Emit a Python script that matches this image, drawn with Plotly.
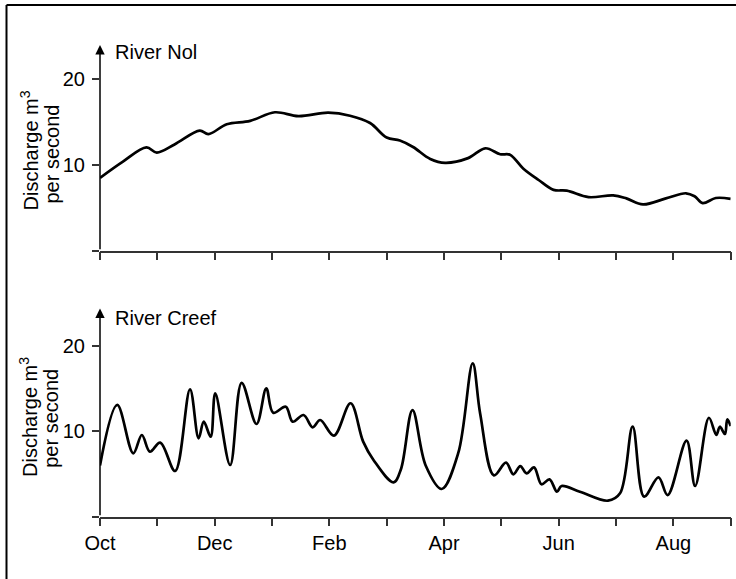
import plotly.graph_objects as go

# ---- data ----
month_names = ["Oct", "Nov", "Dec", "Jan", "Feb", "Mar", "Apr", "May", "Jun", "Jul", "Aug", "Sep"]
month_ticks = list(range(12))
label_every = 2

nol_month = [0, 0.4, 0.81, 0.99, 1.3, 1.74, 1.89, 2.21, 2.62, 3.05, 3.46, 3.98, 4.36, 4.71, 5.0,
             5.23, 5.46, 5.76, 6.02, 6.42, 6.72, 6.98, 7.15, 7.38, 7.65, 7.91, 8.14, 8.52, 8.95,
             9.18, 9.47, 9.87, 10.22, 10.37, 10.51, 10.74, 11.0]
nol_flow = [8.5, 10.4, 12.05, 11.45, 12.4, 14.0, 13.6, 14.75, 15.15, 16.15, 15.7, 16.1, 15.75, 14.9,
            13.2, 12.85, 12.1, 10.7, 10.25, 10.8, 11.95, 11.25, 11.2, 9.6, 8.25, 7.1, 7.0, 6.25,
            6.45, 6.1, 5.4, 6.1, 6.7, 6.35, 5.55, 6.15, 6.05]

creef_month = [0.0, 0.30, 0.58, 0.73, 0.87, 1.05, 1.31, 1.57, 1.72, 1.81, 1.93, 2.01, 2.27, 2.47,
               2.73, 2.90, 3.02, 3.24, 3.36, 3.55, 3.71, 3.84, 4.08, 4.37, 4.59, 4.77, 5.12, 5.25,
               5.45, 5.68, 5.96, 6.25, 6.5, 6.63, 6.87, 7.08, 7.21, 7.33, 7.44, 7.57, 7.70, 7.84,
               7.97, 8.05, 8.37, 8.86, 9.07, 9.29, 9.49, 9.74, 9.90, 10.23, 10.38, 10.62, 10.75,
               10.81, 10.90, 10.94, 11.0]
creef_flow = [6.0, 13.1, 7.43, 9.58, 7.62, 8.68, 5.36, 14.93, 9.19, 11.14, 9.38, 14.47, 6.06, 15.7,
              10.87, 15.05, 12.19, 12.9, 11.14, 11.92, 10.48, 11.34, 9.5, 13.3, 8.8, 6.65, 4.03, 5.6,
              12.5, 6.0, 3.25, 7.5, 17.98, 12.1, 4.85, 6.33, 4.97, 5.94, 5.08, 5.79, 3.8, 4.38,
              2.93, 3.6, 2.93, 1.88, 2.74, 10.55, 2.35, 4.62, 2.54, 8.91, 3.6, 11.6, 9.58,
              10.55, 9.7, 11.4, 10.63]

y_label_ticks = [10, 20]
y_plain_ticks = [0]
panel_titles = ["River Nol", "River Creef"]
y_title_lines = ["Discharge m<sup>3</sup>", "per second"]

# ---- figure ----
W, H = 736, 579
FONT = dict(family="Liberation Sans, Arial, Helvetica, sans-serif", size=20, color="#000")
AX = "#333"

fig = go.Figure()
fig.add_trace(go.Scatter(x=nol_month, y=nol_flow, mode="lines", xaxis="x", yaxis="y",
                         line=dict(color="#000", width=2.7, shape="spline", smoothing=1.0),
                         hoverinfo="skip", showlegend=False))
fig.add_trace(go.Scatter(x=creef_month, y=creef_flow, mode="lines", xaxis="x2", yaxis="y2",
                         line=dict(color="#000", width=2.7, shape="spline", smoothing=1.0),
                         hoverinfo="skip", showlegend=False))

xdom = [100 / W, 730.7 / W]
top_dom = [1 - 250.7 / H, 1 - 45.0 / H]
bot_dom = [1 - 516.7 / H, 1 - 308.6 / H]
y_tops = [24, 24.4]

major_vals = month_ticks[::label_every]
major_text = month_names[::label_every]

tick_style = dict(ticks="outside", tickwidth=1.5, tickcolor=AX)
common_x = dict(range=[0, 11], showline=True, linecolor=AX, linewidth=1.5, ticklen=8,
                tickvals=major_vals, ticktext=major_text, showgrid=False, zeroline=False,
                fixedrange=True, minor=dict(tickvals=month_ticks, ticklen=8, showgrid=False,
                                            **tick_style), **tick_style)
common_y = dict(ticklen=7, tickvals=y_label_ticks, showline=False, showgrid=False,
                zeroline=False, fixedrange=True, ticklabelstandoff=3,
                minor=dict(tickvals=y_plain_ticks, ticklen=7, showgrid=False, **tick_style),
                **tick_style)

fig.update_layout(
    width=W, height=H, margin=dict(l=0, r=0, t=0, b=0, autoexpand=False),
    paper_bgcolor="white", plot_bgcolor="white", font=FONT,
    xaxis=dict(domain=xdom, anchor="y", showticklabels=False, **common_x),
    yaxis=dict(domain=top_dom, anchor="x", range=[0, y_tops[0]], **common_y),
    xaxis2=dict(domain=xdom, anchor="y2", **common_x),
    yaxis2=dict(domain=bot_dom, anchor="x2", range=[0, y_tops[1]], **common_y),
)

annotations = []
# y-axis lines with arrowheads
for xr, yr, top in [("x", "y", y_tops[0]), ("x2", "y2", y_tops[1])]:
    annotations.append(dict(x=0, y=top, xref=xr, yref=yr, ax=0, ay=0, axref=xr, ayref=yr,
                            text="", showarrow=True, arrowhead=2, arrowsize=1.25,
                            arrowwidth=1.5, arrowcolor="#000", standoff=0, startstandoff=0))
# panel titles
for title, yc in zip(panel_titles, [52.3, 318.3]):
    annotations.append(dict(x=113 / W, y=1 - yc / H, xref="paper", yref="paper", text=title,
                            showarrow=False, xanchor="left", yanchor="middle", font=FONT))
# y titles (two lines, each placed separately)
for yc1, yc2 in [(151, 154), (417.5, 418.3)]:
    for txt, xc, yc in [(y_title_lines[0], 28.5, yc1), (y_title_lines[1], 51.5, yc2)]:
        annotations.append(dict(x=xc / W, y=1 - yc / H, xref="paper", yref="paper", text=txt,
                                showarrow=False, textangle=-90, xanchor="center",
                                yanchor="middle", font=FONT))
fig.update_layout(annotations=annotations)

# outer frame (top and left edges)
fig.add_shape(type="line", xref="paper", yref="paper", x0=6.5 / W, x1=1.0, y0=1 - 5 / H,
              y1=1 - 5 / H, line=dict(color="#000", width=2))
fig.add_shape(type="line", xref="paper", yref="paper", x0=6.5 / W, x1=6.5 / W, y0=0,
              y1=1 - 5 / H, line=dict(color="#000", width=2))

fig.write_html("out.html", config={"displayModeBar": False},
               post_script="document.body.style.margin='0px';"
                           "document.body.style.padding='0px';")
